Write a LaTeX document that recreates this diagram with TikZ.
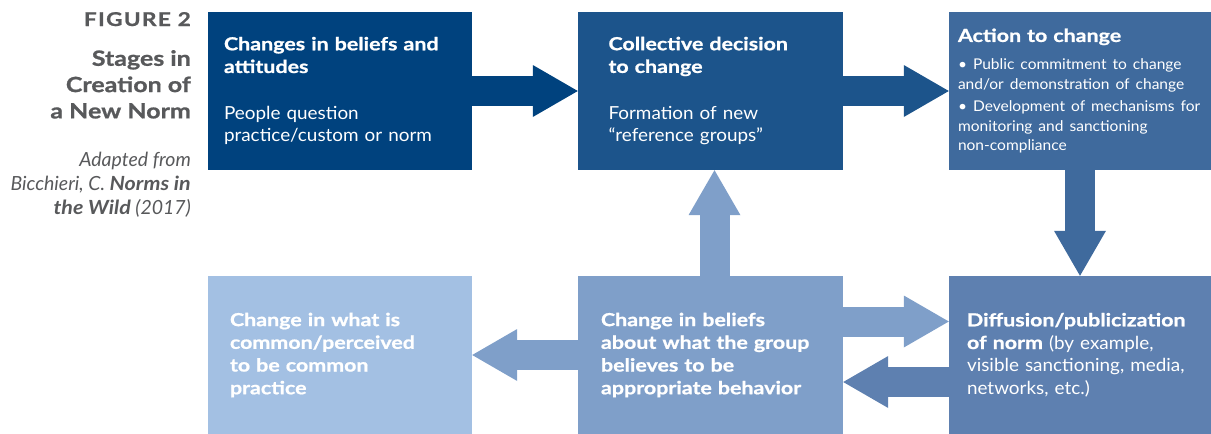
\documentclass[tikz,border=0pt]{standalone}
\usepackage{fontspec}
\setmainfont{Lato}[
  UprightFeatures={FakeStretch=1.05},
  BoldFeatures={FakeStretch=1.19, FakeBold=1},
  BoldItalicFeatures={FakeStretch=1.1}]
\usetikzlibrary{arrows.meta}

\definecolor{stageA}{HTML}{00427E}
\definecolor{stageB}{HTML}{1C548B}
\definecolor{stageC}{HTML}{3F6A9D}
\definecolor{stageD}{HTML}{5E80B0}
\definecolor{stageE}{HTML}{7F9FC9}
\definecolor{stageF}{HTML}{A3C0E3}
\definecolor{figgray}{HTML}{58595B}

\begin{document}
\begin{tikzpicture}[
  x=1pt,
  y=-1pt,
  stage/.style={rectangle, draw=none, inner sep=0pt, minimum height=158pt},
  stagetext/.style={text=white, anchor=west, inner sep=0pt, align=left,
    text width=250pt, font=\fontsize{18}{22.7}\selectfont\bfseries},
  fat/.style={line width=30pt, -{Triangle[length=45pt,width=52pt,line width=0pt]}},
  figlabel/.style={text=figgray, inner sep=0pt, align=right},
]
\useasboundingbox (0,0) rectangle (1211,434);

% stage boxes
\node[stage, fill=stageA, minimum width=264pt] (B1) at (340,91) {};
\node[stage, fill=stageB, minimum width=265pt] (B2) at (710.5,91) {};
\node[stage, fill=stageC, minimum width=262pt] (B3) at (1080,91) {};
\node[stage, fill=stageF, minimum width=264pt] (B4) at (340,355) {};
\node[stage, fill=stageE, minimum width=265pt] (B5) at (710.5,355) {};
\node[stage, fill=stageD, minimum width=262pt] (B6) at (1080,355) {};

% texts in the boxes
\node[stagetext] (T1) at ([xshift=16pt]B1.west) {Changes in beliefs and\\ attitudes\\[23.6pt]
  {\mdseries People question}\\ {\mdseries practice/custom or norm}};
\node[stagetext] (T2) at ([xshift=30.5pt]B2.west) {Collective decision\\ to change\\[23.6pt]
  {\mdseries Formation of new}\\ {\mdseries ``reference groups''}};
\node[stagetext] (T3) at ([xshift=9pt]B3.west) {Action to change\par\vspace{8pt}
  {\fontsize{14.8}{19.6}\selectfont\mdseries
  \textbullet\ Public commitment to change\\ and/or demonstration of change\par\vspace{3pt}
  \textbullet\ Development of mechanisms for\\ monitoring and sanctioning\\ non-compliance\par}};
\node[stagetext] (T4) at ([xshift=22pt]B4.west) {Change in what is\\ common/perceived\\ to be common\\ practice};
\node[stagetext] (T5) at ([xshift=23pt]B5.west) {Change in beliefs\\ about what the group\\ believes to be\\ appropriate behavior};
\node[stagetext] (T6) at ([xshift=18pt]B6.west) {Diffusion/publicization\\ of norm {\mdseries (by example,}\\
  {\mdseries visible sanctioning, media,}\\ {\mdseries networks, etc.)}};

% block arrows
\draw[fat, stageA] (B1) -- (B2);
\draw[fat, stageB] (B2) -- (B3);
\draw[fat, stageC] (B3) -- (B6);
\draw[fat, stageE] ([xshift=4pt]B5.north) -- ([xshift=4pt]B2.south);
\draw[fat, stageE] (B5) -- (B4);
\draw[fat, stageE] ([yshift=33.5pt]B5.east) -- ([yshift=33.5pt]B6.west);
\draw[fat, stageD] ([yshift=-27pt]B6.west) -- ([yshift=-27pt]B5.east);

% caption on the left
\node[figlabel, anchor=base east, font=\fontsize{19}{20}\selectfont\bfseries\addfontfeatures{LetterSpace=7, FakeBold=2}] (F) at (191,26) {FIGURE 2};
\node[figlabel, anchor=north east, font=\fontsize{21}{26.3}\selectfont\bfseries] (S) at (191,50) {Stages in\\ Creation of\\ a New Norm};
\node[figlabel, anchor=north east, font=\fontsize{19.5}{24.2}\selectfont\itshape] (R) at (191,152) {Adapted from\\ Bicchieri, C. \textbf{Norms in}\\ \textbf{the Wild} (2017)};
\end{tikzpicture}
\end{document}
